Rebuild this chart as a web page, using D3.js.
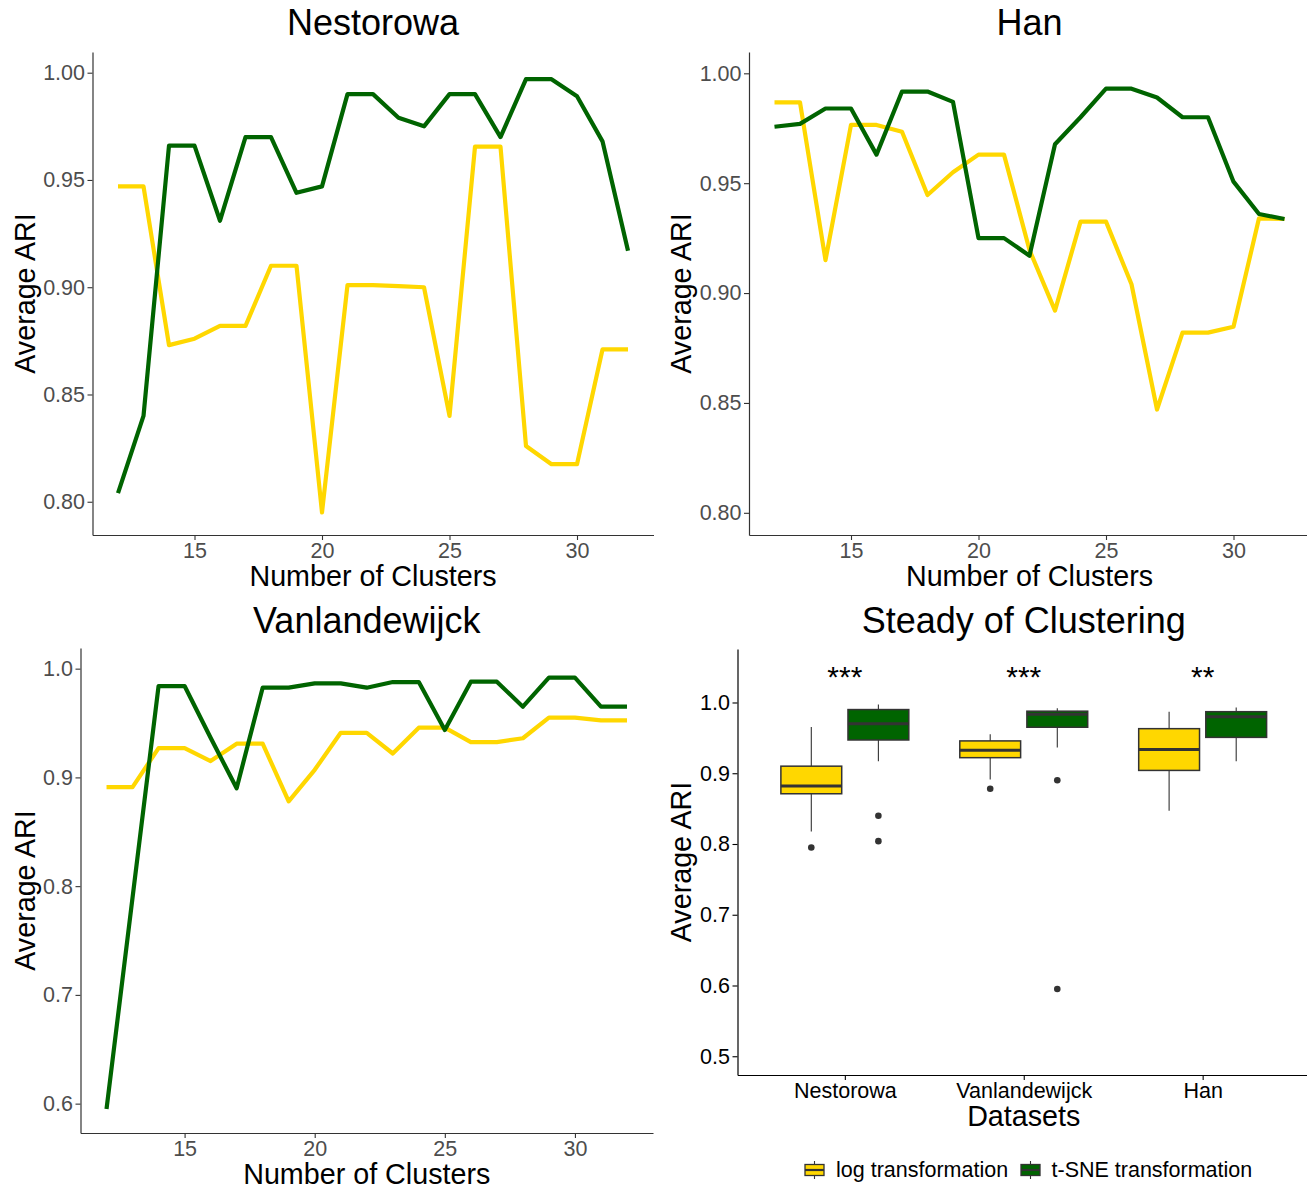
<!DOCTYPE html>
<html>
<head>
<meta charset="utf-8">
<script src="https://cdn.jsdelivr.net/npm/d3@7"></script>
<style>
body{margin:0;background:#fff;}
text{font-family:"Liberation Sans", Arial, sans-serif;}
</style>
</head>
<body>
<div class="mainView"></div>
<script>
// number of clusters on the x axis of the three line panels
let clusters = [12,13,14,15,16,17,18,19,20,21,22,23,24,25,26,27,28,29,30,31,32];

// average ARI per number of clusters
let nestorowaLog  = [0.947,0.947,0.873,0.876,0.882,0.882,0.910,0.910,0.795,0.901,0.901,0.9005,0.900,0.840,0.9655,0.9655,0.826,0.8175,0.8175,0.871,0.871];
let nestorowaTsne = [0.804,0.840,0.966,0.966,0.931,0.970,0.970,0.944,0.947,0.990,0.990,0.979,0.975,0.990,0.990,0.970,0.997,0.997,0.989,0.968,0.917];
let hanLog  = [0.9868,0.9868,0.915,0.9765,0.9765,0.9734,0.9446,0.955,0.963,0.963,0.9196,0.892,0.9325,0.9325,0.904,0.847,0.882,0.882,0.8847,0.934,0.9337];
let hanTsne = [0.9757,0.977,0.984,0.984,0.963,0.9917,0.9917,0.987,0.925,0.925,0.917,0.9677,0.980,0.993,0.993,0.989,0.980,0.980,0.9507,0.936,0.9337];
let vanLog  = [0.891,0.891,0.927,0.927,0.915,0.931,0.931,0.878,0.907,0.941,0.941,0.922,0.9457,0.9457,0.9325,0.9325,0.936,0.955,0.955,0.9525,0.9525];
let vanTsne = [0.595,null,0.984,0.984,0.9365,0.890,0.9825,0.9825,0.9865,0.9865,0.9825,0.9877,0.9877,0.9436,0.988,0.988,0.965,0.9917,0.9917,0.965,0.965];

let datasets = ["Nestorowa","Vanlandewijck","Han"];
let methods = ["log transformation","t-SNE transformation"];
let methodColors = ["#FFD700","#006400"];
let sigLabels = ["***","***","**"];
let sigLevel = 1.045;

let clusterTicks = [15,20,25,30];
let ariTicksTop = [0.80,0.85,0.90,0.95,1.00];
let ariTicksVan = [0.6,0.7,0.8,0.9,1.0];
let ariTicksBox = [0.5,0.6,0.7,0.8,0.9,1.0];

let svg = d3.select(".mainView")
    .append("svg")
    .attr("width", 1307)
    .attr("height", 1185);

function styleAxis(g, lineColor, textColor){
    g.selectAll("path.domain").attr("stroke", lineColor).attr("stroke-width", 1.2);
    g.selectAll(".tick line").attr("stroke", lineColor).attr("stroke-width", 1.1);
    g.selectAll(".tick text")
        .attr("fill", textColor)
        .style("font-size", "21.5px")
        .style("font-family", "'Liberation Sans', Arial, sans-serif");
}

function titles(cfg, title, xTitle){
    let cx = (cfg.left + cfg.right) / 2;
    let cy = (cfg.top + cfg.bottom) / 2;
    svg.append("text")
        .attr("x", cx).attr("y", cfg.titleY)
        .attr("text-anchor", "middle")
        .style("font-size", "36px")
        .text(title);
    svg.append("text")
        .attr("x", cx).attr("y", cfg.bottom + 51)
        .attr("text-anchor", "middle")
        .style("font-size", "28.7px")
        .text(xTitle);
    svg.append("text")
        .attr("transform", "translate(" + [cfg.yTitleX, cy] + ") rotate(-90)")
        .attr("text-anchor", "middle")
        .style("font-size", "28.7px")
        .text("Average ARI");
}

function linePanel(cfg, title, logVals, tsneVals, yTicks, fmt){
    let xScale = d3.scaleLinear().domain([11, 33]).range([cfg.left, cfg.right]);
    let yScale = d3.scaleLinear().domain(cfg.yDomain).range([cfg.bottom, cfg.top]);

    let ax = svg.append("g")
        .attr("transform", "translate(0," + cfg.bottom + ")")
        .call(d3.axisBottom(xScale).tickValues(clusterTicks).tickSize(5).tickSizeOuter(0).tickPadding(2.5));
    styleAxis(ax, "#333333", "#4D4D4D");
    let ay = svg.append("g")
        .attr("transform", "translate(" + cfg.left + ",0)")
        .call(d3.axisLeft(yScale).tickValues(yTicks).tickFormat(d3.format(fmt)).tickSize(5).tickSizeOuter(0).tickPadding(2.5));
    styleAxis(ay, "#333333", "#4D4D4D");

    let line = d3.line().x(d => xScale(d.x)).y(d => yScale(d.y));
    [logVals, tsneVals].forEach((vals, k) => {
        let pts = clusters.map((c, i) => ({x: c, y: vals[i]})).filter(d => d.y != null);
        svg.append("path")
            .datum(pts)
            .attr("d", line)
            .attr("fill", "none")
            .attr("stroke", methodColors[k])
            .attr("stroke-width", 4.2)
            .attr("stroke-linejoin", "round");
    });
    titles(cfg, title, "Number of Clusters");
}

function boxStats(values){
    let v = values.filter(d => d != null).sort(d3.ascending);
    let q1 = d3.quantile(v, 0.25), med = d3.quantile(v, 0.5), q3 = d3.quantile(v, 0.75);
    let iqr = q3 - q1;
    let lo = d3.min(v.filter(d => d >= q1 - 1.5 * iqr));
    let hi = d3.max(v.filter(d => d <= q3 + 1.5 * iqr));
    let out = v.filter(d => d < lo || d > hi);
    return {q1, med, q3, lo, hi, out};
}

function boxPanel(cfg){
    let groups = {
        "Nestorowa": [nestorowaLog, nestorowaTsne],
        "Vanlandewijck": [vanLog, vanTsne],
        "Han": [hanLog, hanTsne]
    };
    let xScale = d3.scalePoint().domain(datasets).range([cfg.left, cfg.right]).padding(0.6);
    let yScale = d3.scaleLinear().domain(cfg.yDomain).range([cfg.bottom, cfg.top]);
    let step = xScale.step();
    let boxW = step * 0.34;

    let ax = svg.append("g")
        .attr("transform", "translate(0," + cfg.bottom + ")")
        .call(d3.axisBottom(xScale).tickSize(5).tickSizeOuter(0).tickPadding(2.5));
    styleAxis(ax, "#000", "#000");
    let ay = svg.append("g")
        .attr("transform", "translate(" + cfg.left + ",0)")
        .call(d3.axisLeft(yScale).tickValues(ariTicksBox).tickFormat(d3.format(".1f")).tickSize(5).tickSizeOuter(0).tickPadding(2.5));
    styleAxis(ay, "#000", "#000");

    datasets.forEach((name, i) => {
        groups[name].forEach((vals, k) => {
            let s = boxStats(vals);
            let cx = xScale(name) + (k === 0 ? -1 : 1) * step * 0.1875;
            let g = svg.append("g");
            g.append("line")
                .attr("x1", cx).attr("x2", cx)
                .attr("y1", yScale(s.hi)).attr("y2", yScale(s.q3))
                .attr("stroke", "#333").attr("stroke-width", 1.1);
            g.append("line")
                .attr("x1", cx).attr("x2", cx)
                .attr("y1", yScale(s.q1)).attr("y2", yScale(s.lo))
                .attr("stroke", "#333").attr("stroke-width", 1.1);
            g.append("rect")
                .attr("x", cx - boxW / 2).attr("width", boxW)
                .attr("y", yScale(s.q3)).attr("height", yScale(s.q1) - yScale(s.q3))
                .attr("fill", methodColors[k])
                .attr("stroke", "#333").attr("stroke-width", 1.5);
            g.append("line")
                .attr("x1", cx - boxW / 2).attr("x2", cx + boxW / 2)
                .attr("y1", yScale(s.med)).attr("y2", yScale(s.med))
                .attr("stroke", "#333").attr("stroke-width", 3);
            g.selectAll("circle")
                .data(s.out)
                .enter()
                .append("circle")
                .attr("cx", cx).attr("cy", d => yScale(d))
                .attr("r", 3.3)
                .attr("fill", "#333");
        });
        svg.append("text")
            .attr("x", xScale(name))
            .attr("y", yScale(sigLevel))
            .attr("dy", 16)
            .attr("text-anchor", "middle")
            .style("font-size", "30px")
            .text(sigLabels[i]);
    });
    titles(cfg, "Steady of Clustering", "Datasets");
}

function legend(){
    let keys = [{x: 805, tx: 836}, {x: 1021, tx: 1051.5}];
    methods.forEach((m, k) => {
        let kx = keys[k].x;
        svg.append("line")
            .attr("x1", kx + 9.5).attr("x2", kx + 9.5)
            .attr("y1", 1161).attr("y2", 1179)
            .attr("stroke", "#333").attr("stroke-width", 1.1);
        svg.append("rect")
            .attr("x", kx).attr("y", 1164.5)
            .attr("width", 19).attr("height", 11)
            .attr("fill", methodColors[k])
            .attr("stroke", "#333").attr("stroke-width", 1.3);
        svg.append("line")
            .attr("x1", kx).attr("x2", kx + 19)
            .attr("y1", 1170).attr("y2", 1170)
            .attr("stroke", "#333").attr("stroke-width", 2.2);
        svg.append("text")
            .attr("x", keys[k].tx).attr("y", 1176.5)
            .style("font-size", "21.5px")
            .text(m);
    });
}

linePanel({left: 92.5, right: 653.5, top: 52, bottom: 535, yDomain: [0.7845, 1.00965], titleY: 35, yTitleX: 34.5},
    "Nestorowa", nestorowaLog, nestorowaTsne, ariTicksTop, ".2f");
linePanel({left: 749, right: 1310, top: 52, bottom: 535, yDomain: [0.7899, 1.0097], titleY: 35, yTitleX: 691},
    "Han", hanLog, hanTsne, ariTicksTop, ".2f");
linePanel({left: 80.5, right: 653, top: 648, bottom: 1133, yDomain: [0.573, 1.019], titleY: 633, yTitleX: 34.5},
    "Vanlandewijck", vanLog, vanTsne, ariTicksVan, ".1f");
boxPanel({left: 737.5, right: 1310, top: 649, bottom: 1075, yDomain: [0.4735, 1.0756], titleY: 633, yTitleX: 691});
legend();
</script>
</body>
</html>
